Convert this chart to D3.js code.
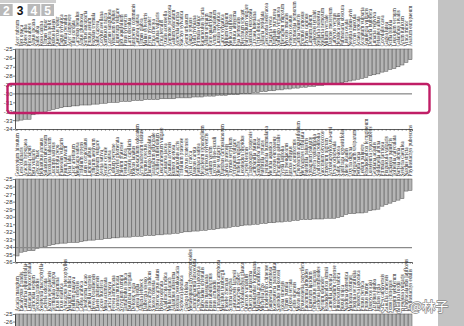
<!DOCTYPE html>
<html>
<head>
<meta charset="utf-8">
<script src="https://cdn.jsdelivr.net/npm/d3@7"></script>
<style>
  html, body { margin: 0; padding: 0; background: #fff; }
  svg { display: block; }
</style>
</head>
<body>
<svg id="chart" width="464" height="326"></svg>
<script>
// δ13C (‰) of species, sorted per panel, bars hang down from -25
const namesA = ["Acer rubrum","Ilex opaca","Abies alba","Picea abies","Alnus incana","Salix alba","Rosa canina","Ulmus minor","Hedera helix","Rubus idaeus","Quercus robur","Fagus sylvatica","Betula pendula","Acer campestre","Tilia cordata","Carpinus betulus","Alnus glutinosa","Sorbus aucuparia","Prunus avium","Populus tremula","Salix caprea","Corylus avellana","Sambucus nigra","Cornus sanguinea","Viburnum opulus","Ligustrum vulgare","Ilex aquifolium","Pinus sylvestris","Larix decidua","Juniperus communis","Castanea sativa","Ulmus glabra","Malus sylvestris","Pyrus pyraster","Erica cinerea","Calluna vulgaris","Erica tetralix","Oxalis acetosella","Anemone nemorosa","Galium odoratum","Asperula taurina","Stachys sylvatica","Geum urbanum","Ajuga reptans","Viola riviniana","Primula elatior","Ranunculus ficaria","Allium ursinum","Paris quadrifolia","Arum maculatum","Luzula sylvatica","Carex sylvatica","Milium effusum","Melica uniflora","Festuca altissima","Poa nemoralis","Blechnum spicant","Polypodium vulgare","Sanicula europaea","Circaea lutetiana","Urtica dioica","Alliaria petiolata","Glechoma hederacea","Fragaria vesca","Digitalis purpurea","Solidago virgaurea","Hieracium murorum","Mycelis muralis","Senecio ovatus","Lysimachia nemorum","Caltha palustris","Bromus ramosus","Elymus caninus","Lamium album","Galeopsis tetrahit","Stellaria holostea","Stellaria nemorum","Milium vernale","Daphne mezereum","Lathyrus vernus","Hepatica nobilis","Pulmonaria obscura","Listera ovata","Neottia nidus-avis","Orchis mascula","Actaea spicata","Aconitum vulparia","Aquilegia vulgaris","Dentaria bulbifera","Lunaria rediviva","Petasites albus","Corydalis cava","Gagea lutea","Scilla bifolia","Leucojum vernum","Galanthus nivalis","Arum italicum","Vinca minor","Asarum europaeum"];

const valuesA = [-33.1,-33.0,-32.9,-32.9, -32.4,-32.3,-32.2,-32.1, -31.9,-31.8,-31.7,-31.6,
  -31.5,-31.5,-31.4,-31.4,-31.3,-31.3,-31.3,-31.2,-31.2,-31.1,
  -31.1,-31.0,-31.0,-31.0,-30.9,-30.9,-30.9,-30.8,-30.8,-30.8,-30.7,-30.7,-30.7,-30.7,-30.6,
  -30.6,-30.6,-30.6,-30.5,-30.5,-30.5,-30.5,-30.4,-30.4,-30.4,
  -30.3,-30.3,-30.3,-30.2,-30.2,-30.2,-30.1,-30.1,-30.1,-30.0,-30.0,-30.0,
  -29.9,-29.9,-29.8,-29.8,-29.7,-29.7,-29.6,-29.6,-29.5,-29.5,-29.4,-29.4,-29.3,
  -29.3,-29.2,-29.2,-29.1,-29.1,-29.0,-29.0,-28.9,-28.9,-28.8,
  -28.7,-28.6,-28.5,-28.4,-28.3,-28.2,-28.0,
  -27.9,-27.8,-27.6,-27.5,-27.3,-27.2,
  -27.0,-26.8,-26.5,-26.2];

const namesB = ["Gossypium hirsutum","Lens culinaris","Arachis hypogaea","Brassica napus","Beta vulgaris","Glycine max","Helianthus annuus","Solanum tuberosum","Nicotiana tabacum","Cucumis sativus","Cucurbita pepo","Phaseolus vulgaris","Pisum sativum","Vicia faba","Cicer arietinum","Medicago sativa","Trifolium repens","Lotus corniculatus","Lupinus albus","Triticum aestivum","Hordeum vulgare","Avena sativa","Secale cereale","Oryza sativa","Lolium perenne","Dactylis glomerata","Phleum pratense","Festuca rubra","Agrostis capillaris","Holcus lanatus","Anthoxanthum odoratum","Arrhenatherum elatius","Bromus erectus","Plantago lanceolata","Taraxacum officinale","Achillea millefolium","Leucanthemum vulgare","Centaurea jacea","Knautia arvensis","Rumex acetosa","Ranunculus acris","Trifolium pratense","Lathyrus pratensis","Vicia cracca","Daucus carota","Pastinaca sativa","Heracleum sphondylium","Anthriscus sylvestris","Galium verum","Lychnis flos-cuculi","Silene vulgaris","Dianthus carthusianorum","Salvia pratensis","Thymus serpyllum","Origanum vulgare","Prunella vulgaris","Leontodon hispidus","Crepis biennis","Tragopogon pratensis","Campanula patula","Sanguisorba minor","Potentilla reptans","Lysimachia nummularia","Mentha aquatica","Lycopus europaeus","Phragmites australis","Typha latifolia","Iris pseudacorus","Juncus effusus","Carex acutiformis","Eriophorum angustifolium","Menyanthes trifoliata","Potentilla palustris","Sphagnum palustre","Drosera rotundifolia","Andromeda polifolia","Vaccinium oxycoccos","Empetrum nigrum","Arctostaphylos uva-ursi","Dryas octopetala","Salix herbacea","Saxifraga oppositifolia","Silene acaulis","Oxyria digyna","Polygonum viviparum","Betula nana","Ledum palustre","Rhododendron ferrugineum","Loiseleuria procumbens","Gentiana acaulis","Soldanella alpina","Primula farinosa","Pinguicula vulgaris","Parnassia palustris","Tofieldia calyculata","Bartsia alpina","Sesleria caerulea","Nardus stricta","Phyllostachys pubescens"];

const valuesB = [-35.2, -34.7,-34.6,-34.5,-34.5, -34.2,-34.1,-34.0, -33.8,-33.7,-33.6,
  -33.5,-33.5,-33.4,-33.4,-33.4,-33.3,
  -33.2,-33.1,-33.1,-33.0,-33.0,-32.9,-32.9,
  -32.8,-32.8,-32.7,-32.7,-32.7,-32.6,-32.6,-32.6,-32.5,-32.5,-32.5,-32.4,
  -32.4,-32.3,-32.3,-32.2,-32.2,-32.1,-32.0,-32.0,-31.9,-31.9,-31.8,
  -31.8,-31.7,-31.7,-31.6,-31.5,-31.5,-31.4,-31.3,-31.3,-31.2,-31.1,-31.1,
  -31.0,-31.0,-30.9,-30.9,-30.8,-30.8,-30.7,-30.7,-30.6,-30.6,-30.5,-30.5,-30.4,
  -30.4,-30.4,-30.3,-30.3,-30.3,-30.2,-30.2,-30.2,-30.1,-30.0,
  -29.7,-29.6,-29.6,-29.5,-29.5,-29.4,-29.2,
  -29.1,-29.0,-28.6,-28.4,-28.2,-28.0,
  -27.8,-27.6,-26.6,-26.5];

const namesC = ["Acacia mangium","Eucalyptus grandis","Casuarina equisetifolia","Leucaena leucocephala","Gliricidia sepium","Tectona grandis","Swietenia macrophylla","Cedrela odorata","Khaya senegalensis","Terminalia catappa","Ficus benjamina","Ficus elastica","Artocarpus heterophyllus","Mangifera indica","Psidium guajava","Citrus sinensis","Coffea arabica","Theobroma cacao","Camellia sinensis","Hevea brasiliensis","Elaeis guineensis","Cocos nucifera","Musa acuminata","Carica papaya","Persea americana","Annona muricata","Syzygium cumini","Tamarindus indica","Bauhinia variegata","Delonix regia","Cassia fistula","Albizia lebbeck","Dalbergia sissoo","Pterocarpus indicus","Shorea robusta","Dipterocarpus alatus","Hopea odorata","Azadirachta indica","Melia azedarach","Ailanthus altissima","Robinia pseudoacacia","Sophora japonica","Ginkgo biloba","Metasequoia glyptostroboides","Cunninghamia lanceolata","Cryptomeria japonica","Platycladus orientalis","Pinus massoniana","Pinus tabuliformis","Pinus armandii","Cinnamomum camphora","Machilus thunbergii","Phoebe zhennan","Schima superba","Castanopsis fargesii","Lithocarpus glaber","Cyclobalanopsis glauca","Quercus variabilis","Quercus acutissima","Liquidambar formosana","Magnolia grandiflora","Michelia figo","Liriodendron chinense","Paulownia tomentosa","Koelreuteria paniculata","Sapindus mukorossi","Toona sinensis","Ulmus pumila","Zelkova serrata","Celtis sinensis","Morus alba","Broussonetia papyrifera","Eucommia ulmoides","Ligustrum lucidum","Osmanthus fragrans","Gardenia jasminoides","Nerium oleander","Rhododendron simsii","Camellia japonica","Loropetalum chinense","Pittosporum tobira","Buxus sinica","Nandina domestica","Mahonia fortunei","Photinia serratifolia","Eriobotrya japonica","Prunus persica","Prunus mume","Diospyros kaki","Ziziphus jujuba","Juglans regia","Carya cathayensis","Pistacia chinensis","Rhus chinensis","Sapium sebiferum","Vernicia fordii","Bambusa vulgaris","Dendrocalamus latiflorus","Phyllostachys edulis"];

const valuesC = [-35.6,-35.3,-35.1,-34.9,-34.8,-34.6,-34.5,-34.4,-34.3,-34.2,
  -34.1,-34.0,-33.9,-33.9,-33.8,-33.7,-33.6,-33.6,-33.5,-33.4,
  -33.4,-33.3,-33.2,-33.2,-33.1,-33.0,-33.0,-32.9,-32.9,-32.8,
  -32.8,-32.7,-32.7,-32.6,-32.6,-32.5,-32.5,-32.4,-32.4,-32.3,
  -32.3,-32.2,-32.2,-32.1,-32.1,-32.0,-32.0,-31.9,-31.9,-31.8,
  -31.8,-31.7,-31.7,-31.6,-31.6,-31.5,-31.5,-31.4,-31.4,-31.3,
  -31.3,-31.2,-31.1,-31.1,-31.0,-31.0,-30.9,-30.8,-30.8,-30.7,
  -30.6,-30.6,-30.5,-30.4,-30.4,-30.3,-30.2,-30.1,-30.0,-29.9,
  -29.8,-29.7,-29.6,-29.5,-29.4,-29.2,-29.1,-29.0,-28.8,-28.7,
  -28.5,-28.4,-28.2,-28.0,-27.9,-27.7,-27.5,-27.3,-27.1];

// reference lines (‰)
const refA = -30.05;
const refB = -34.1;

const pageTabs = ["2", "3", "4", "5"];
const activeTab = "3";
const watermark = "知乎 @林子";

const W = 464, H = 326;
const svg = d3.select("#chart");

// right-hand grey margin of the viewer
svg.append("rect").attr("x", 438).attr("y", 0).attr("width", W - 438).attr("height", H).attr("fill", "#c3c3c3");

const x = d3.scaleBand().domain(d3.range(valuesA.length)).range([15.5, 412]).paddingInner(0.12);

const panels = [
  { names: namesA, values: valuesA, domain: [-25, -34], range: [49, 129], ref: refA, refColor: "#444", refWidth: 0.8 },
  { names: namesB, values: valuesB, domain: [-25, -36], range: [179, 262], ref: refB, refColor: "#8a8a8a", refWidth: 1.1 },
  { names: namesC, values: valuesC, domain: [-25, -36], range: [314, 397], ref: null }
];

panels.forEach(p => {
  const y = d3.scaleLinear().domain(p.domain).range(p.range);
  const g = svg.append("g");
  const top = y(-25);

  // species labels, rotated, sitting on top of each bar
  g.append("g").selectAll("text")
    .data(p.names)
    .join("text")
    .attr("transform", (d, i) => `translate(${x(i) + x.bandwidth() / 2},${top - 2.5}) rotate(-90)`)
    .attr("dy", "0.35em")
    .attr("text-anchor", "start")
    .attr("font-family", "Liberation Serif, serif")
    .attr("font-size", 5.2)
    .attr("fill", "#222")
    .text(d => d);

  // bars hanging down from -25
  g.append("g").selectAll("rect")
    .data(p.values)
    .join("rect")
    .attr("x", (d, i) => x(i))
    .attr("width", x.bandwidth())
    .attr("y", top)
    .attr("height", d => y(d) - top)
    .attr("fill", "#b5b5b5")
    .attr("stroke", "#505050")
    .attr("stroke-width", 0.5);

  if (p.ref !== null) {
    g.append("line")
      .attr("x1", 15).attr("x2", 412)
      .attr("y1", y(p.ref)).attr("y2", y(p.ref))
      .attr("stroke", p.refColor).attr("stroke-width", p.refWidth);
  }

  // bottom axis line with small ticks
  const xAxis = d3.axisBottom(x).tickSize(1.8).tickFormat("");
  const ax = g.append("g").attr("transform", `translate(0,${y(p.domain[1])})`).call(xAxis);
  ax.select(".domain").attr("stroke", "#333").attr("stroke-width", 0.8);
  ax.selectAll(".tick line").attr("stroke", "#444").attr("stroke-width", 0.5);

  // left axis; only the ticks that fall inside the page are labelled
  const ticks = d3.range(p.domain[0], p.domain[1] - 1, -1).filter(t => y(t) + 3 < H);
  const yAxis = d3.axisLeft(y).tickValues(ticks).tickSize(2).tickSizeOuter(0).tickFormat(d => String(d));
  const ay = g.append("g").attr("transform", "translate(15,0)").call(yAxis);
  ay.select(".domain").attr("stroke", "#333").attr("stroke-width", 0.8);
  ay.selectAll(".tick line").attr("stroke", "#333").attr("stroke-width", 0.6);
  ay.selectAll(".tick text")
    .attr("font-family", "Liberation Sans, Arial, sans-serif")
    .attr("font-size", 6)
    .attr("fill", "#333")
    .attr("x", -2.5);
});

// highlight frame around the reference band of the first panel
svg.append("rect")
  .attr("x", 7.5).attr("y", 84).attr("width", 422).attr("height", 29)
  .attr("rx", 3).attr("ry", 3)
  .attr("fill", "none").attr("stroke", "#c01e66").attr("stroke-width", 2.4);

// page tabs
const tabs = svg.append("g");
tabs.append("rect").attr("x", 0).attr("y", 0).attr("width", 56).attr("height", 16).attr("fill", "#fff");
tabs.append("rect").attr("x", 0).attr("y", 0).attr("width", 56).attr("height", 3).attr("fill", "#cfcfcf");
const tabX = d3.scaleBand().domain(pageTabs).range([0, 54]).paddingInner(0.08);
tabs.selectAll("rect.tab")
  .data(pageTabs.filter(t => t !== activeTab))
  .join("rect")
  .attr("class", "tab")
  .attr("x", d => tabX(d)).attr("y", 4)
  .attr("width", tabX.bandwidth()).attr("height", 12)
  .attr("fill", "#b9b9b9");
tabs.selectAll("text")
  .data(pageTabs)
  .join("text")
  .attr("x", d => tabX(d) + tabX.bandwidth() / 2)
  .attr("y", 14.5)
  .attr("text-anchor", "middle")
  .attr("font-family", "Liberation Sans, Arial, sans-serif")
  .attr("font-weight", "bold")
  .attr("font-size", 12)
  .attr("fill", d => d === activeTab ? "#111" : "#fff")
  .text(d => d);

// watermark
svg.append("text")
  .attr("x", 381).attr("y", 311)
  .attr("font-family", "Noto Sans CJK SC, sans-serif")
  .attr("font-size", 13)
  .attr("fill", "#fff")
  .attr("stroke", "#8a8a8a")
  .attr("stroke-width", 1.4)
  .attr("paint-order", "stroke")
  .text(watermark);
</script>
</body>
</html>
